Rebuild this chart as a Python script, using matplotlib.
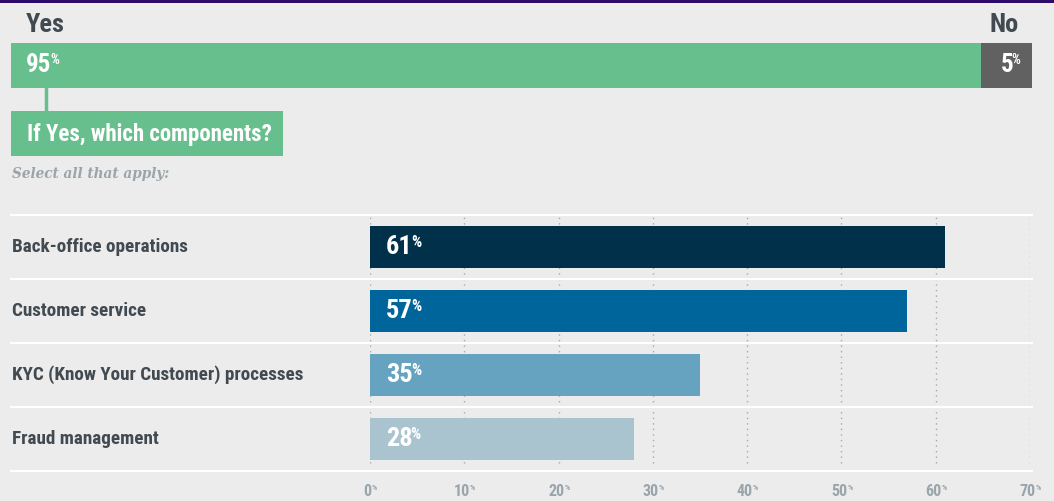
import matplotlib
matplotlib.use("Agg")
import matplotlib.pyplot as plt
from matplotlib import font_manager
from matplotlib.transforms import IdentityTransform

names = {f.name for f in font_manager.fontManager.ttflist}
COND = "Roboto Condensed" if "Roboto Condensed" in names else (
    "Liberation Sans Narrow" if "Liberation Sans Narrow" in names else "Roboto")

# ---- data ----
top_labels = ["Yes", "No"]
top_values = [95, 5]
categories = ["Back-office operations", "Customer service",
              "KYC (Know Your Customer) processes", "Fraud management"]
values = [61, 57, 35, 28]
ticks = [0, 10, 20, 30, 40, 50, 60, 70]
question = "If Yes, which components?"
subtitle = "Select all that apply:"

BG = "#ececec"
GREEN = "#66bf8c"
GREY = "#616161"
DARK = "#414a50"
TICKC = "#9aa5ab"
bar_colors = ["#00304a", "#00659a", "#66a3c1", "#a9c3cf"]

W, H = 1054, 501
fig = plt.figure(figsize=(W / 100, H / 100), dpi=100, facecolor=BG)

def px(x0, y0, x1, y1):
    return [x0 / W, 1 - y1 / H, (x1 - x0) / W, (y1 - y0) / H]

# top purple line
fig.add_artist(plt.Rectangle((0, 1 - 2.5 / H), 1, 2.5 / H, transform=fig.transFigure,
                             color="#2b0a6b", lw=0))

# ---- Yes/No bar ----
axt = fig.add_axes(px(11, 43, 1032, 88))
axt.set_xlim(0, 100)
axt.set_ylim(-0.5, 0.5)
axt.barh([0], [top_values[0]], left=0, height=1.0, color=GREEN, lw=0)
axt.barh([0], [top_values[1]], left=top_values[0], height=1.0, color=GREY, lw=0)
axt.axis("off")

sups = []
fig.text(26 / W, 1 - 25 / H, top_labels[0], fontsize=19, fontweight="bold",
         color=DARK, family=COND, ha="left", va="center")
fig.text(1019 / W, 1 - 25 / H, top_labels[1], fontsize=19, fontweight="bold",
         color=DARK, family=COND, ha="right", va="center")
t = axt.text(1.5, 0, str(top_values[0]), fontsize=18, fontweight="bold",
             color="white", family=COND, ha="left", va="center")
sups.append((t, -1.5, 10, "white"))
t = axt.text(top_values[0] + 1.9, 0, str(top_values[1]), fontsize=18, fontweight="bold",
             color="white", family=COND, ha="left", va="center")
sups.append((t, -1.5, 10, "white"))

# connector and question box
fig.add_artist(plt.Line2D([46 / W, 46 / W], [1 - 88 / H, 1 - 111 / H],
                          transform=fig.transFigure, color=GREEN, lw=2.5))
fig.add_artist(plt.Rectangle((11 / W, 1 - 156 / H), 272 / W, 45 / H,
                             transform=fig.transFigure, color=GREEN, lw=0))
fig.text(27 / W, 1 - 134 / H, question, fontsize=16.5, fontweight="bold",
         color="white", family=COND, ha="left", va="center")
fig.text(12 / W, 1 - 174 / H, subtitle, fontsize=9.8, fontweight="bold",
         style="italic", color=TICKC, family="DejaVu Serif", ha="left", va="center")

# ---- bar chart ----
x0, x70 = 370, 1030
ax = fig.add_axes(px(x0, 215, x70, 471))
ax.set_facecolor("none")
ax.set_xlim(0, 70)
ax.set_ylim(len(categories) - 0.5, -0.5)
ax.axis("off")
ypos = list(range(len(categories)))
for xt in ticks:
    ax.axvline(xt, ymin=0.03, ymax=1, color="#a8a8a8", lw=1.0, ls=(0, (1, 3)), zorder=0)
ax.barh(ypos, values, height=42 / 64, color=bar_colors, lw=0, zorder=2)

axw = x70 - x0
xmin_f = (11 - x0) / axw
xmax_f = (1032 - x0) / axw
for b in [-0.5 + i for i in range(len(categories) + 1)]:
    ax.axhline(b, xmin=xmin_f, xmax=xmax_f, color="white", lw=1.5, clip_on=False, zorder=1)

for y, cat, v in zip(ypos, categories, values):
    fig.text(12 / W, 1 - (247 + 64 * y) / H, cat, fontsize=13.8, fontweight="bold",
             color=DARK, family=COND, ha="left", va="center")
    t = ax.text(1.7, y, str(v), fontsize=19, fontweight="bold", color="white",
                family=COND, ha="left", va="center", zorder=3)
    sups.append((t, -2, 11.5, "white"))

for xt in ticks:
    t = ax.text(xt - 0.25, 3.5 + 21 / 64, str(xt), fontsize=11.5, fontweight="bold",
                color=TICKC, family=COND, ha="center", va="center", clip_on=False)
    sups.append((t, 0, 6, TICKC))

fig.canvas.draw()
r = fig.canvas.get_renderer()
for t, dx, s, c in sups:
    bb = t.get_window_extent(r)
    pt = fig.text(0, 0, "%", fontsize=s, fontweight="bold", color=c, family=COND,
                  ha="left", va="top", transform=IdentityTransform())
    pt.set_position((bb.x1 + dx, bb.y1 + 0.02 * (bb.y1 - bb.y0)))

fig.savefig("out.png", dpi=100, facecolor=BG)
